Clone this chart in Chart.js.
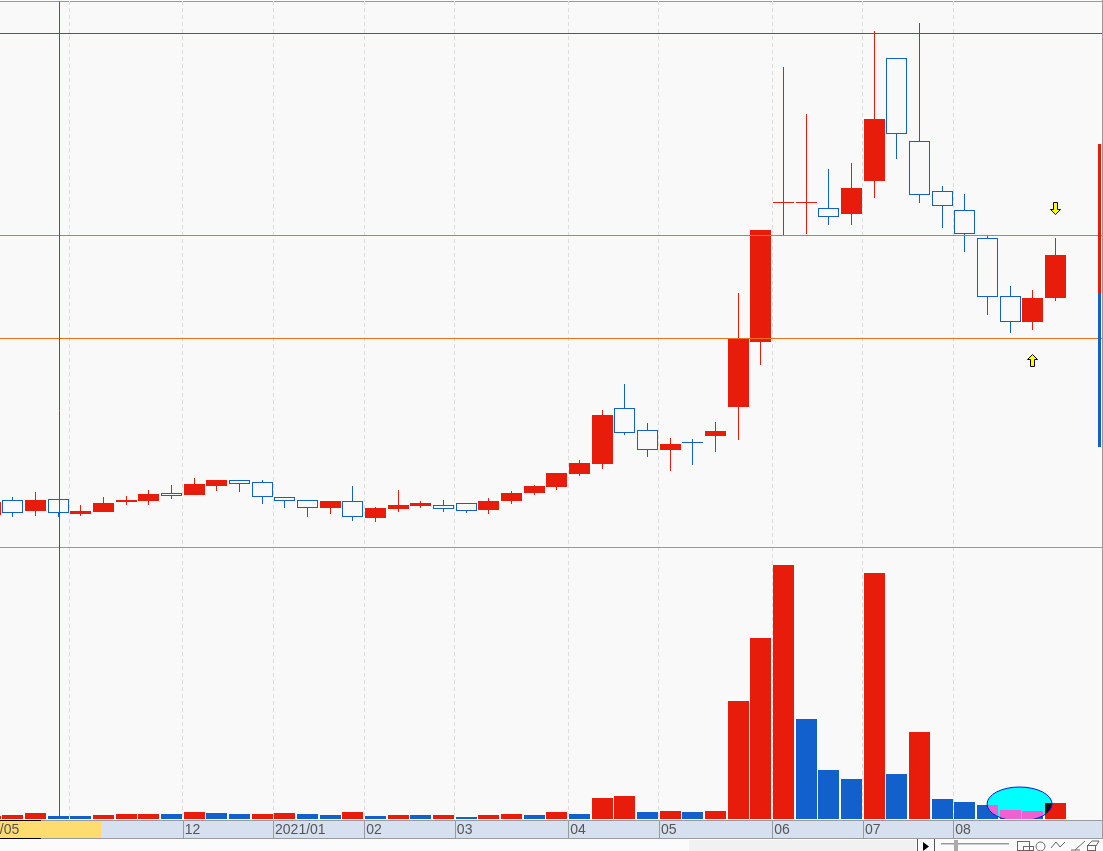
<!DOCTYPE html>
<html>
<head>
<meta charset="utf-8">
<style>
  html, body { margin: 0; padding: 0; background: #fbfbfb; overflow: hidden; }
  canvas { display: block; }
</style>
<script src="https://cdn.jsdelivr.net/npm/chart.js@4/dist/chart.umd.min.js"></script>
</head>
<body>
<canvas id="chart" width="1103" height="851"></canvas>
<script>
// weekly candles, week -1 is only just visible at the left edge
const weeks = [-1,0,1,2,3,4,5,6,7,8,9,10,11,12,13,14,15,16,17,18,19,20,21,22,23,24,25,26,27,28,29,30,31,32,33,34,35,36,37,38,39,40,41,42,43,44,45,46];
const opens  = [304,319,308,320,305,307,317,318,326,324,333,339,337,322,319,311,318,301,310,313,314,316,309,318,326,332,345,355,411,389,369,377,383,412,477,616,616,611,605,638,761,678,628,609,581,523,497,521];
const highs  = [317,322,327,320,314,322,323,329,334,341,339,339,339,322,319,318,333,312,329,318,319,316,321,328,334,346,359,409,435,396,381,380,397,526,589,752,705,650,656,788,761,796,633,625,583,533,529,581];
const lows   = [304,302,303,302,303,307,314,314,320,324,328,327,315,311,302,305,298,297,307,311,307,306,305,315,324,329,343,350,384,362,348,354,367,379,454,584,585,594,594,621,660,616,591,567,504,486,489,518];
const closes = [317,306,319,306,308,316,319,325,323,335,339,335,322,318,311,318,302,311,314,316,310,308,318,326,333,346,356,404,386,369,375,376,388,481,589,617,617,602,631,700,685,624,613,585,522,497,521,564];
const volumes = [3,4,6,3,3,4,5,5,5,7,6,5,5,6,5,4,7,3,4,4,4,2,4,5,4,7,5,21,23,7,8,7,8,118,181,254,100,49,40,246,45,87,20,17,14,9,8,16];
const volumeUp = "RRRBBRRRBRBBRRBBRBRBRBRRBRBRRBRBRRRRBBBRBRBBBBBR";

const tickLabels = ["/05","","12","2021/01","02","03","04","05","06","07","08"];
const tickWeeks = [-0.66,2.5,7.5,11.48,15.5,19.5,24.5,28.5,33.5,37.5,41.48];

const levels = [785.6, 584, 481];
const crosshairWeek = 2.06;
const sideRed = [526, 675];
const sideBlue = [372, 526];
const sideWeek = 47.935;
const arrowDown = [46, 611];
const arrowUp = [45, 459];
const marker = { week: 44.41, volume: 15, weekRadius: 1.434, volumeRadius: 17 };

const RED = "#e81c0a";
const BLUE = "#1160cc";
const PANEL = "#f9f9f9";
const ORANGE = "#f2701c";

const pxPerWeek = 22.67;
const xMin = -12.8 / pxPerWeek;
const xMax = xMin + 1102 / pxPerWeek;

function makeArrow(up) {
  const c = document.createElement("canvas");
  c.width = 11;
  c.height = 13;
  const g = c.getContext("2d");
  const pts = [[5.5,0.5],[10.5,5.5],[7.5,5.5],[7.5,12.5],[3.5,12.5],[3.5,5.5],[0.5,5.5]];
  g.beginPath();
  pts.forEach(p => g.lineTo(p[0], up ? p[1] : 13 - p[1]));
  g.closePath();
  g.fillStyle = "#ffff00";
  g.fill();
  g.strokeStyle = "#000";
  g.stroke();
  return c;
}

const isUp = weeks.map((w, i) => closes[i] >= opens[i]);
const wickData = weeks.map((w, i) => ({ x: w, y: [lows[i], highs[i]] }));
const bodyData = weeks.map((w, i) => ({ x: w, y: [opens[i], closes[i]] }));
const volumeData = weeks.map((w, i) => ({ x: w, y: volumes[i] }));
const volumeColors = weeks.map((w, i) => volumeUp[i] === "R" ? RED : BLUE);

function levelLine(v) {
  return {
    type: "line", yAxisID: "price", order: 2,
    data: [{ x: xMin - 1, y: v }, { x: xMax + 1, y: v }],
    borderColor: v === levels[0] ? RED : ORANGE, borderWidth: 1, pointRadius: 0
  };
}

const datasets = [
  { type: "bar", yAxisID: "price", order: 5, data: wickData, barThickness: 1, grouped: false, inflateAmount: 0,
    backgroundColor: isUp.map(u => u ? RED : BLUE) },
  { type: "bar", yAxisID: "price", order: 4, data: bodyData, barThickness: 21, grouped: false, inflateAmount: 0,
    backgroundColor: isUp.map(u => u ? RED : PANEL),
    borderColor: isUp.map(u => u ? RED : BLUE), borderWidth: isUp.map(u => u ? 0 : 1), borderSkipped: false },
  { type: "bar", yAxisID: "volume", order: 4, data: volumeData, barThickness: 21, grouped: false, inflateAmount: 0,
    backgroundColor: volumeColors },
  { type: "line", yAxisID: "price", order: 2,
    data: [{ x: crosshairWeek, y: 0 }, { x: crosshairWeek, y: 818 }],
    borderColor: RED, borderWidth: 1, pointRadius: 0 },
  ...levels.map(levelLine),
  { type: "bar", yAxisID: "price", order: 1, grouped: false, barThickness: 3, inflateAmount: 0,
    data: [{ x: sideWeek, y: sideRed }, { x: sideWeek, y: sideBlue }],
    backgroundColor: [RED, BLUE] },
  { type: "scatter", yAxisID: "price", order: 0, data: [{ x: arrowDown[0], y: arrowDown[1] }],
    pointStyle: makeArrow(false) },
  { type: "scatter", yAxisID: "price", order: 0, data: [{ x: arrowUp[0], y: arrowUp[1] }],
    pointStyle: makeArrow(true) }
];

// line everything up on whole pixels, the reference has no antialiasing
const snapPlugin = {
  id: "snap",
  afterDatasetsUpdate(chart) {
    chart.getSortedVisibleDatasetMetas().forEach(meta => {
      meta.data.forEach(el => {
        el.x = Math.floor(el.x) + 0.5;
        if (meta.type === "bar") {
          el.y = Math.round(el.y);
          el.base = Math.round(el.base);
        } else {
          el.y = Math.floor(el.y) + 0.5;
        }
      });
    });
  }
};

function hline(g, x0, x1, y, color) {
  g.fillStyle = color;
  g.fillRect(x0, y, x1 - x0, 1);
}

function drawToolbar(g) {
  g.fillStyle = "#f1f1f1";
  g.fillRect(689, 840, 227, 11);
  hline(g, 689, 916, 839, "#ffffff");
  g.fillStyle = "#555";
  g.fillRect(917, 839, 1, 12);
  g.fillRect(934, 839, 1, 12);
  g.fillStyle = "#000";
  g.beginPath();
  g.moveTo(923, 842);
  g.lineTo(929, 846.5);
  g.lineTo(923, 851);
  g.fill();
  hline(g, 941, 1009, 843, "#999");
  hline(g, 941, 1009, 844, "#ccc");
  g.fillStyle = "#aaa";
  g.fillRect(954, 840, 4, 11);
  g.strokeStyle = "#666";
  g.lineWidth = 1;
  g.strokeRect(1017.5, 841.5, 12, 9);
  g.strokeRect(1023.5, 846.5, 10, 4);
  g.beginPath();
  g.arc(1040.5, 846.5, 4.5, 0, Math.PI * 2);
  g.stroke();
  g.beginPath();
  g.moveTo(1051, 848); g.lineTo(1056, 842); g.lineTo(1060, 847); g.lineTo(1065, 842);
  g.moveTo(1075, 850); g.lineTo(1085, 841);
  g.moveTo(1071, 850); g.lineTo(1080, 850);
  g.stroke();
  g.strokeRect(1087.5, 845.5, 8, 5);
  g.beginPath();
  g.moveTo(1088, 845); g.lineTo(1092, 841); g.lineTo(1099, 841); g.lineTo(1096, 846);
  g.stroke();
}

// panel background, date strip and window chrome
const chromePlugin = {
  id: "chrome",
  beforeDraw(chart) {
    const g = chart.ctx;
    const x = chart.scales.x;
    g.save();
    g.fillStyle = "#fbfbfb";
    g.fillRect(0, 0, 1103, 851);
    g.fillStyle = PANEL;
    g.fillRect(0, 0, 1103, 820);
    g.fillStyle = "#d6e0ef";
    g.fillRect(0, 820, 1103, 18);
    g.fillStyle = "#ffdc70";
    g.fillRect(0, 821, 101, 17);
    hline(g, 0, 1103, 820, "#9a9a9a");
    hline(g, 0, 1103, 838, "#9a9a9a");
    hline(g, 0, 41, 820, "#000");
    hline(g, 0, 41, 838, "#000");
    g.fillStyle = "#9a9a9a";
    tickWeeks.slice(2).forEach(w => g.fillRect(Math.round(x.getPixelForValue(w)), 820, 1, 18));
    g.fillRect(0, 1, 1103, 1);
    g.fillRect(1102, 0, 1, 838);
    drawToolbar(g);
    g.restore();
  },
  beforeDatasetsDraw(chart) {
    const g = chart.ctx;
    g.save();
    hline(g, 0, 1103, 547, "#9a9a9a");
    g.restore();
  }
};

// the cyan marker over the last volume bars, bars inside it change colour
const markerPlugin = {
  id: "marker",
  afterDatasetsDraw(chart) {
    const g = chart.ctx;
    const x = chart.scales.x;
    const y = chart.scales.volume;
    const cx = x.getPixelForValue(marker.week);
    const cy = y.getPixelForValue(marker.volume);
    const rx = x.getPixelForValue(marker.week + marker.weekRadius) - cx;
    const ry = cy - y.getPixelForValue(marker.volume + marker.volumeRadius);
    g.save();
    g.beginPath();
    g.rect(0, 0, 1103, 819);
    g.clip();
    g.beginPath();
    g.ellipse(cx, cy, rx, ry, 0, 0, Math.PI * 2);
    g.fillStyle = "#00ffff";
    g.fill();
    g.save();
    g.clip();
    chart.getDatasetMeta(2).data.forEach((el, i) => {
      g.fillStyle = volumeUp[i] === "R" ? "#111" : "#f060d0";
      g.fillRect(el.x - 10.5, el.y, 21, el.base - el.y);
    });
    g.restore();
    g.strokeStyle = "#1010f0";
    g.lineWidth = 1;
    g.stroke();
    g.restore();
  }
};

new Chart(document.getElementById("chart").getContext("2d"), {
  data: { datasets: datasets },
  plugins: [snapPlugin, chromePlugin, markerPlugin],
  options: {
    responsive: false,
    animation: false,
    layout: { autoPadding: false, padding: { top: 1, right: 1, left: 0, bottom: 0 } },
    plugins: { legend: { display: false }, tooltip: { enabled: false } },
    scales: {
      x: {
        type: "linear",
        offset: false,
        min: xMin,
        max: xMax,
        afterBuildTicks: s => {
          s.ticks = tickWeeks.map(v => ({ value: v }));
        },
        afterFit: s => {
          s.height = 32;
          s.paddingLeft = 0;
          s.paddingRight = 0;
          s.paddingTop = 0;
          s.paddingBottom = 0;
        },
        grid: {
          color: c => c.index === 0 ? "rgba(0,0,0,0)" : "#dcdcdc",
          drawTicks: false,
          tickLength: 0,
          offset: false
        },
        border: { display: false, dash: [4, 3] },
        ticks: {
          autoSkip: false,
          maxRotation: 0,
          minRotation: 0,
          align: "start",
          labelOffset: 2,
          padding: 3,
          color: "#555",
          font: { family: "'Liberation Sans Narrow', 'Liberation Sans'", size: 14 },
          callback: (v, i) => tickLabels[i]
        }
      },
      price: { display: false, min: 0, max: 818 },
      volume: { display: false, min: 0, max: 818 }
    }
  }
});
</script>
</body>
</html>
